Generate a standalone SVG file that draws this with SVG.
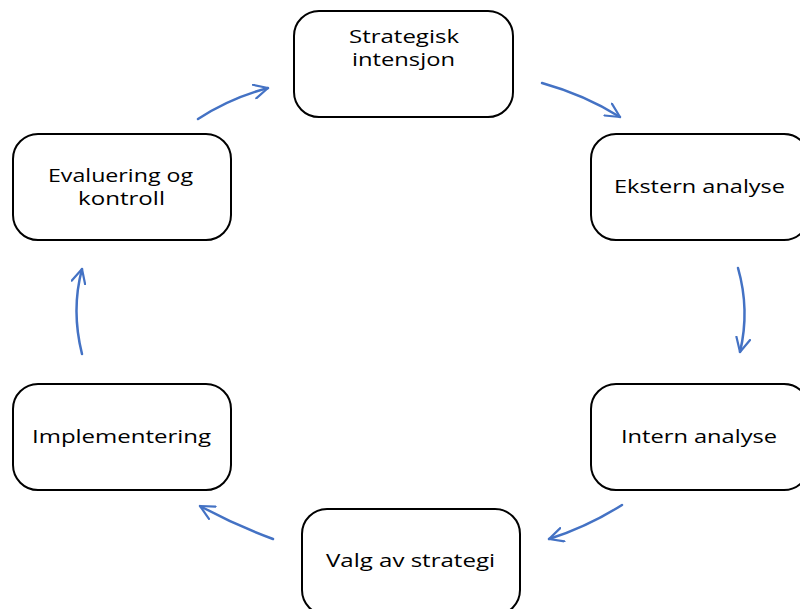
<svg xmlns="http://www.w3.org/2000/svg" width="800" height="609" viewBox="0 0 800 609">
<defs>
<style>
.box{fill:#fff;stroke:#000;stroke-width:2}
.t{font-family:"Open Sans","Noto Sans","DejaVu Sans",sans-serif;font-size:18px;fill:#000}
.c{fill:none;stroke:#4472C4;stroke-width:2.5;stroke-linecap:round}
</style>
<marker id="ah" viewBox="0 0 16 16" refX="15" refY="8" markerWidth="16" markerHeight="16" markerUnits="userSpaceOnUse" orient="auto">
<path d="M1,1 L15,8 L1,15" fill="none" stroke="#4472C4" stroke-width="2.2" stroke-linecap="round" stroke-linejoin="round"/>
</marker>
</defs>
<rect width="800" height="609" fill="#fff"/>
<g id="n-strategisk">
<rect class="box" x="294" y="11" width="219" height="106" rx="25"/>
<text class="t" x="349" y="43" textLength="110" lengthAdjust="spacingAndGlyphs">Strategisk</text>
<text class="t" x="352" y="66" textLength="103" lengthAdjust="spacingAndGlyphs">intensjon</text>
</g>
<g id="n-ekstern">
<rect class="box" x="591" y="134" width="218" height="106" rx="25"/>
<text class="t" x="614" y="193" textLength="171" lengthAdjust="spacingAndGlyphs">Ekstern analyse</text>
</g>
<g id="n-intern">
<rect class="box" x="591" y="384" width="218" height="106" rx="25"/>
<text class="t" x="621" y="443" textLength="156" lengthAdjust="spacingAndGlyphs">Intern analyse</text>
</g>
<g id="n-valg">
<rect class="box" x="302" y="509" width="218" height="106" rx="25"/>
<text class="t" x="326" y="567" textLength="169" lengthAdjust="spacingAndGlyphs">Valg av strategi</text>
</g>
<g id="n-implementering">
<rect class="box" x="13" y="384" width="218" height="106" rx="25"/>
<text class="t" x="32" y="443" textLength="179" lengthAdjust="spacingAndGlyphs">Implementering</text>
</g>
<g id="n-evaluering">
<rect class="box" x="13" y="134" width="218" height="106" rx="25"/>
<text class="t" x="48" y="182" textLength="145" lengthAdjust="spacingAndGlyphs">Evaluering og</text>
<text class="t" x="78" y="205" textLength="87" lengthAdjust="spacingAndGlyphs">kontroll</text>
</g>
<g id="connectors">
<path class="c" marker-end="url(#ah)" d="M198,119 Q230,98 268,88"/>
<path class="c" marker-end="url(#ah)" d="M542,83 Q585,95 620,117"/>
<path class="c" marker-end="url(#ah)" d="M738,268 Q750,310 740,352"/>
<path class="c" marker-end="url(#ah)" d="M622,505 Q587,527 549,539"/>
<path class="c" marker-end="url(#ah)" d="M273,539 Q235,525 200,506"/>
<path class="c" marker-end="url(#ah)" d="M82,354 Q71,310 82,269"/>
</g>
</svg>
